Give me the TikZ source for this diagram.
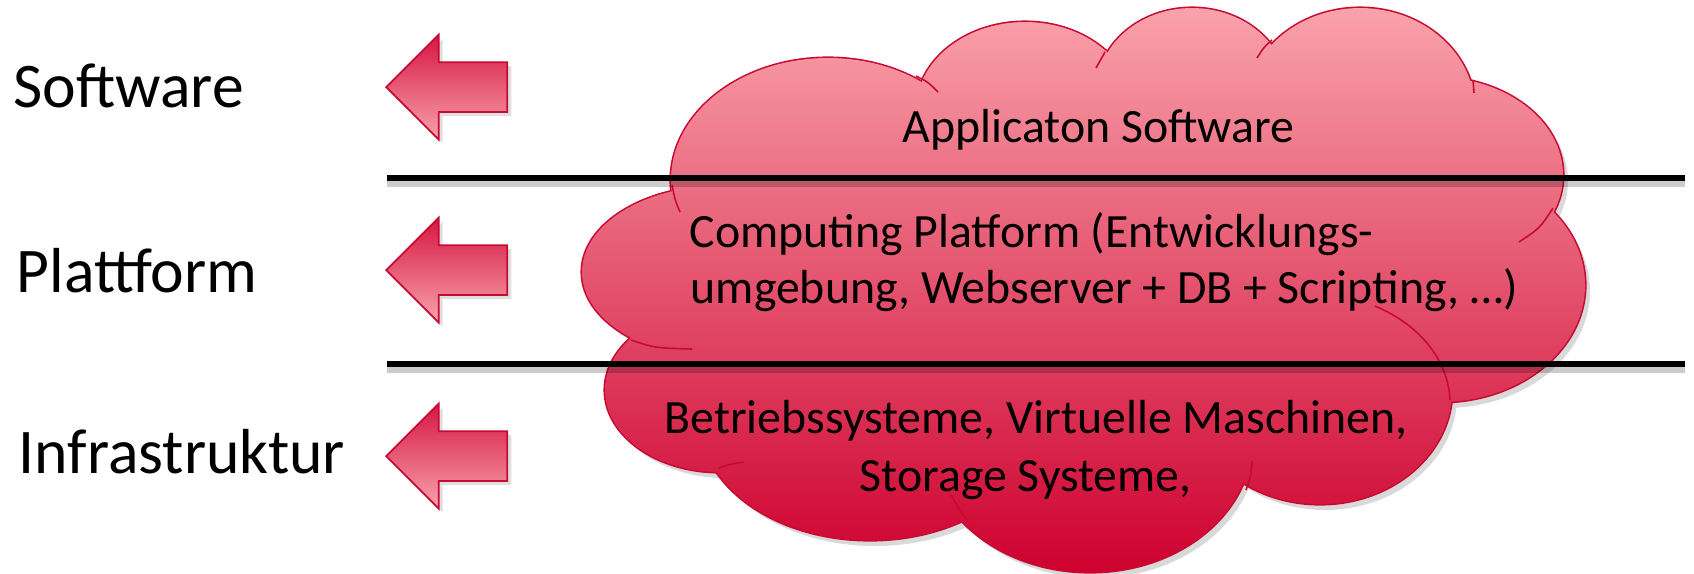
\documentclass[tikz,border=0pt]{standalone}
\usepackage{fontspec}
\setmainfont{Carlito}
\usetikzlibrary{shapes.arrows, shadows, positioning}

\definecolor{cloudtop}{RGB}{250,164,172}
\definecolor{cloudbot}{RGB}{206,0,46}
\definecolor{cloudrim}{RGB}{200,10,50}
\definecolor{arrtop}{RGB}{214,22,66}
\definecolor{arrbot}{RGB}{248,162,172}

% the puffs of the cloud, one ellipse each
\newcommand\cloudpuffs{
  (828,180) ellipse[x radius=1.57cm, y radius=1.22cm]
  (1025,110) ellipse[x radius=1.09cm, y radius=0.88cm]
  (1192,90) ellipse[x radius=0.95cm, y radius=0.82cm]
  (1360,110) ellipse[x radius=1.15cm, y radius=1.02cm]
  (1435,175) ellipse[x radius=1.28cm, y radius=0.98cm]
  (1440,285) ellipse[x radius=1.45cm, y radius=1.17cm]
  (1320,390) ellipse[x radius=1.32cm, y radius=1.14cm]
  (1090,440) ellipse[x radius=1.62cm, y radius=1.32cm]
  (870,420) ellipse[x radius=1.70cm, y radius=1.20cm]
  (720,390) ellipse[x radius=1.15cm, y radius=0.82cm]
  (720,272) ellipse[x radius=1.38cm, y radius=0.86cm]
}

\tikzset{
  layerarrow/.style={single arrow, shape border rotate=180, draw=cloudrim, line width=0.5pt,
    top color=arrtop, bottom color=arrbot, minimum height=1.21cm,
    inner xsep=0pt, inner ysep=0.24cm,
    single arrow head extend=0.275cm, single arrow head indent=0pt,
    drop shadow={opacity=0.25, shadow xshift=0.4mm, shadow yshift=-0.4mm}},
  layername/.style={font=\fontsize{18.1}{20}\selectfont, inner sep=0pt, anchor=base west},
  cloudtext/.style={font=\fontsize{13.6}{16}\selectfont, inner sep=0pt, anchor=base west},
  rimline/.style={draw=cloudrim, line width=0.45pt},
  layersep/.style={black, line width=1.6pt},
  layersepshade/.style={black, opacity=0.2, line width=2.4pt},
}

\begin{document}
\begin{tikzpicture}[x=0.1mm, y=-0.1mm]
  \useasboundingbox (0,0) rectangle (1694,573);

  % layer names on the left
  \node[layername] (swName) at (13,107) {Software};
  \node[layername] (pfName) at (16,292) {Plattform};
  \node[layername] (infName) at (18,473) {Infrastruktur};

  \node[layerarrow, anchor=tip] (swArrow) at (385,87) {};
  \node[layerarrow, anchor=tip] (pfArrow) at (385,270) {};
  \node[layerarrow, anchor=tip] (infArrow) at (385,456) {};

  % cloud: shadow, rim, shaded body
  \begin{scope}[shift={(5,6)}]
    \fill[black, opacity=0.15] \cloudpuffs;
  \end{scope}
  \draw[cloudrim, line width=0.9pt] \cloudpuffs;
  \begin{scope}
    \clip \cloudpuffs (1085,285) ellipse[x radius=4.2cm, y radius=1.9cm];
    \shade[top color=cloudtop, bottom color=cloudbot] (560,0) rectangle (1600,573);
  \end{scope}

  % small inner curls where the puffs meet
  \draw[rimline] (672,185) .. controls (675,200) .. (680,212);
  \draw[rimline] (916,76) .. controls (928,82) .. (938,92);
  \draw[rimline] (1105,52) .. controls (1101,60) .. (1096,68);
  \draw[rimline] (1272,40) .. controls (1264,47) .. (1257,58);
  \draw[rimline] (1473,80) .. controls (1474,86) .. (1474,93);
  \draw[rimline] (1553,208) .. controls (1540,228) .. (1519,242);
  \draw[rimline] (1375,306) .. controls (1420,325) and (1448,360) .. (1450,400);
  \draw[rimline] (1246,490) .. controls (1251,475) .. (1252,461);
  \draw[rimline] (967,520) .. controls (957,506) .. (951,495);
  \draw[rimline] (719,468) .. controls (731,464) .. (744,462);
  \draw[rimline] (631,340) .. controls (655,348) .. (692,349);

  % separators between the layers
  \coordinate (sepTopL) at (387,178);
  \coordinate (sepTopR) at (1685,178);
  \coordinate (sepBotL) at (387,364);
  \coordinate (sepBotR) at (1685,364);
  \draw[layersepshade] ([yshift=-0.5mm]sepTopL) -- ([yshift=-0.5mm]sepTopR);
  \draw[layersepshade] ([yshift=-0.5mm]sepBotL) -- ([yshift=-0.5mm]sepBotR);
  \draw[layersep] (sepTopL) -- (sepTopR);
  \draw[layersep] (sepBotL) -- (sepBotR);

  % texts in the cloud
  \node[cloudtext] (appTxt) at (902,142) {Applicaton Software};
  \node[cloudtext] (platTxtA) at (689,247) {Computing Platform (Entwicklungs-};
  \node[cloudtext] (platTxtB) at (690,303) {umgebung, Webserver + DB + Scripting, …)};
  \node[cloudtext] (infTxtA) at (664,433) {Betriebssysteme, Virtuelle Maschinen,};
  \node[cloudtext] (infTxtB) at (859,491) {Storage Systeme,};
\end{tikzpicture}
\end{document}
